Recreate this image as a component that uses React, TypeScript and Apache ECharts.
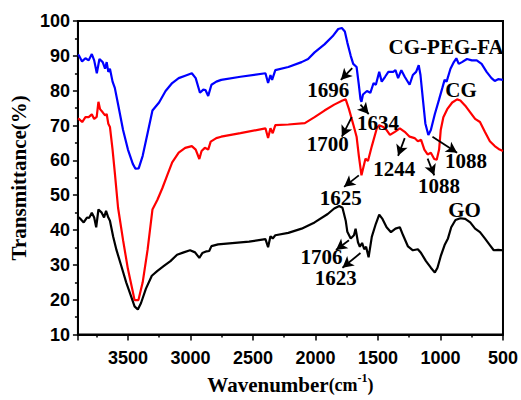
import React, { useEffect, useRef } from 'react';
import * as echarts from 'echarts';

// FTIR spectra: [wavenumber (cm-1), transmittance (%)]
const cgPegFa: [number, number][] = [
  [3900, 90.3], [3893, 90.2], [3867, 88.4], [3840, 89.3], [3814, 88.7], [3789, 90.5], [3770, 88.7],
  [3749, 85], [3728, 89.1], [3702, 88.2], [3683, 86.3], [3670, 88.2], [3657, 85.4], [3644, 86.3],
  [3623, 82.6], [3605, 80.8], [3579, 76.1], [3539, 68.7], [3500, 63.1], [3461, 59], [3440, 57.6],
  [3414, 57.7], [3382, 61.3], [3343, 67.8], [3304, 74.3], [3251, 76.6], [3199, 79.9], [3146, 82.2],
  [3094, 83.6], [3042, 84.3], [2989, 85], [2958, 83.6], [2924, 79.4], [2897, 80.3], [2880, 80.2],
  [2858, 78.5], [2832, 81.7], [2793, 82.6], [2754, 83.1], [2600, 84], [2400, 85], [2379, 82.2],
  [2360, 84.5], [2347, 83.1], [2321, 85.9], [2217, 86.8], [2111, 88.2], [2059, 89.1], [2007, 91],
  [1928, 93.3], [1863, 95.6], [1818, 97.7], [1789, 98], [1765, 97], [1745, 93.8], [1718, 90],
  [1698, 87.7], [1671, 86.8], [1653, 81.7], [1640, 77.6], [1632, 76.8], [1620, 78.9], [1588, 79.9],
  [1561, 79.4], [1535, 82.2], [1517, 81.7], [1490, 85.4], [1470, 82.6], [1443, 84], [1417, 85.4],
  [1378, 85.4], [1360, 85.9], [1339, 83.6], [1313, 85.9], [1286, 84], [1247, 81.7], [1221, 84.5],
  [1195, 85.4], [1174, 87.3], [1160, 84.5], [1142, 78], [1121, 70.6], [1097, 67.3], [1077, 68.7],
  [1045, 73.3], [1011, 77.5], [985, 80.8], [967, 83.1], [951, 82.6], [920, 86.3], [893, 88.2],
  [873, 89.3], [854, 87.7], [828, 88.2], [788, 89.1], [749, 88.7], [710, 88.7], [671, 87.7],
  [631, 85.4], [592, 83.6], [566, 82.8], [539, 83.3], [500, 83.1],
];

const cg: [number, number][] = [
  [3900, 72], [3893, 71.9], [3866, 71], [3840, 72.4], [3814, 72.4], [3789, 73.2], [3770, 71.9],
  [3750, 72.5], [3736, 76.8], [3723, 74.7], [3702, 73.8], [3683, 72.9], [3670, 73.3], [3657, 70.5],
  [3644, 69.6], [3623, 63.1], [3605, 56.5], [3579, 46.4], [3539, 37.1], [3500, 28.8], [3461, 22.3],
  [3447, 19.9], [3416, 19.9], [3382, 25], [3343, 34.3], [3304, 45.9], [3264, 48.7], [3225, 52],
  [3186, 55.7], [3146, 59.4], [3094, 62.2], [3042, 63.6], [2989, 64.1], [2958, 63.1], [2929, 60.4],
  [2911, 62.7], [2885, 63.6], [2858, 63.1], [2838, 65.4], [2793, 66.4], [2754, 66.8], [2600, 67.8],
  [2400, 69.2], [2379, 66.4], [2360, 69.2], [2342, 67.8], [2321, 70.1], [2217, 70.3], [2085, 70.7],
  [2007, 72.4], [1928, 74.3], [1850, 76], [1784, 77.2], [1758, 77.5], [1732, 74.7], [1714, 72.4],
  [1692, 69.6], [1671, 66.8], [1653, 61.3], [1632, 55.7], [1600, 60.5], [1580, 59.8], [1549, 64.1],
  [1509, 69.2], [1490, 70.1], [1457, 69.6], [1431, 68.7], [1404, 67.3], [1365, 68.2], [1325, 69.2],
  [1286, 68.2], [1247, 66.8], [1207, 66.4], [1181, 65.5], [1155, 65.9], [1129, 63.1], [1103, 61.7],
  [1077, 62.2], [1050, 60.4], [1030, 60.2], [1011, 63.1], [998, 68.7], [977, 72.4], [946, 74.7],
  [906, 76.6], [867, 77.5], [841, 77.2], [802, 75.7], [762, 73.8], [723, 71.9], [684, 71],
  [645, 68.2], [605, 65.5], [566, 64.1], [527, 63.1], [500, 62.7],
];

const go: [number, number][] = [
  [3900, 43.8], [3879, 43.2], [3854, 42.2], [3828, 43.6], [3810, 43.5], [3789, 45], [3770, 43.6],
  [3754, 40.8], [3736, 45.9], [3710, 45], [3691, 43.6], [3675, 45.5], [3657, 43.6], [3644, 42.7],
  [3618, 38.1], [3592, 34.3], [3553, 29.7], [3514, 25], [3474, 20.9], [3447, 18.1], [3421, 17.2],
  [3396, 19], [3356, 23.2], [3309, 26.9], [3264, 28.3], [3212, 29.7], [3160, 31.1], [3107, 32.9],
  [3054, 33.6], [3003, 34.2], [2963, 33.6], [2929, 32], [2905, 33.4], [2871, 33.9], [2850, 34],
  [2832, 35.4], [2779, 35.9], [2531, 36.7], [2400, 37.4], [2379, 35.1], [2360, 38.2], [2342, 37.6],
  [2321, 38.5], [2217, 39.2], [2111, 40.4], [2007, 42.2], [1902, 44.6], [1850, 46.2], [1810, 46.9],
  [1784, 46.4], [1758, 42.7], [1745, 39.5], [1718, 37.6], [1692, 38.5], [1679, 40.4], [1660, 36.5],
  [1645, 35.2], [1627, 36.3], [1610, 34.5], [1595, 35.2], [1575, 32.2], [1549, 38.1], [1517, 41.8],
  [1490, 44.4], [1464, 43.2], [1431, 40.8], [1396, 39.4], [1360, 40.4], [1325, 40.8], [1299, 38.5],
  [1260, 35.3], [1221, 34.2], [1181, 34.5], [1155, 33.4], [1116, 31.1], [1077, 29.2], [1045, 27.8],
  [1024, 29.2], [998, 32.5], [967, 35.7], [940, 37.6], [914, 40.8], [880, 42.9], [841, 43.4],
  [802, 43.2], [762, 42.2], [723, 40.4], [684, 39.4], [645, 37.6], [605, 35.7], [574, 34.2],
  [539, 34.3], [500, 34.2],
];

// annotation labels, anchored in data coordinates [wavenumber, transmittance]
const labelTexts = ['CG-PEG-FA', '1696', '1634', 'CG', '1700', '1244', '1088', '1088', '1625', 'GO', '1706', '1623'];
const labelAt: [number, number][] = [
  [955, 92.5], [1897, 80.1], [1500, 70.7], [836, 80.1], [1901, 64.6], [1370, 57.6],
  [1012, 52.6], [796, 59.9], [1798, 49.3], [808, 45.9], [1952, 32.4], [1838, 26.2],
];
// arrows: [from, to] in data coordinates
const arrows: [[number, number], [number, number]][] = [
  [[1706, 86.5], [1797, 83.1]],
  [[1640, 76.0], [1574, 73.3]],
  [[1710, 72.4], [1789, 66.8]],
  [[1286, 66.4], [1339, 61.3]],
  [[1103, 60.5], [1050, 55.7]],
  [[1064, 66.8], [867, 62.2]],
  [[1653, 55.7], [1771, 52.4]],
  [[1732, 37.1], [1836, 34.3]],
  [[1640, 33.4], [1784, 29.2]],
];

const SANS = '"Liberation Sans", Arial, sans-serif';
const SERIF = '"Liberation Serif", "Times New Roman", serif';

export default function App() {
  const ref = useRef<HTMLDivElement>(null);
  useEffect(() => {
    document.body.style.margin = '0';
    const chart = echarts.init(ref.current!, null, { renderer: 'svg' });
    const lineSeries = (name: string, data: [number, number][], color: string) => ({
      type: 'line',
      name,
      data,
      showSymbol: false,
      symbol: 'none',
      lineStyle: { color, width: 2.2 },
      itemStyle: { color },
      z: 3,
    });
    const axisLabelStyle = { color: '#000', fontFamily: SANS, fontWeight: 'bold', fontSize: 18 };
    chart.setOption({
      animation: false,
      grid: { left: 73, right: 14, top: 21, bottom: 56, show: true, borderColor: '#000', borderWidth: 2 },
      xAxis: {
        type: 'value',
        inverse: true,
        min: 500,
        max: 3900,
        interval: 500,
        name: '{t|Wavenumber}{p|(cm}{s|-1}{p|)}',
        nameLocation: 'middle',
        nameGap: 33,
        nameTextStyle: {
          rich: {
            t: { fontFamily: SERIF, fontWeight: 'bold', fontSize: 21, color: '#000' },
            p: { fontFamily: SERIF, fontWeight: 'bold', fontSize: 18, color: '#000' },
            s: { fontFamily: SERIF, fontWeight: 'bold', fontSize: 12, color: '#000', padding: [0, 0, 14, 0] },
          },
        },
        axisLine: { show: true, lineStyle: { color: '#000', width: 2 } },
        axisTick: { show: true, length: 6, lineStyle: { color: '#000', width: 1.5 } },
        minorTick: { show: true, splitNumber: 2, length: 3, lineStyle: { color: '#000', width: 1.5 } },
        splitLine: { show: false },
        axisLabel: {
          ...axisLabelStyle,
          margin: 14,
          formatter: (v: number) => (v % 500 === 0 ? String(v) : ''),
        },
      },
      yAxis: {
        type: 'value',
        min: 10,
        max: 100,
        interval: 10,
        name: 'Transmittance(%)',
        nameLocation: 'middle',
        nameGap: 41,
        nameTextStyle: { fontFamily: SERIF, fontWeight: 'bold', fontSize: 21, color: '#000' },
        axisLine: { show: true, lineStyle: { color: '#000', width: 2 } },
        axisTick: { show: true, length: 5, lineStyle: { color: '#000', width: 1.5 } },
        minorTick: { show: true, splitNumber: 2, length: 3, lineStyle: { color: '#000', width: 1.5 } },
        splitLine: { show: false },
        axisLabel: { ...axisLabelStyle, margin: 8 },
      },
      series: [
        lineSeries('CG-PEG-FA', cgPegFa, '#0000ff'),
        lineSeries('CG', cg, '#ff0000'),
        {
          ...lineSeries('GO', go, '#000000'),
          markLine: {
            silent: true,
            symbol: ['none', 'arrow'],
            symbolSize: [9, 11],
            label: { show: false },
            lineStyle: { color: '#000', width: 1.8, type: 'solid' },
            data: arrows.map(([a, b]) => [{ coord: a }, { coord: b }]),
          },
        },
      ],
    });
    const graphic = labelTexts.map((t, i) => {
      const p = chart.convertToPixel({ xAxisIndex: 0, yAxisIndex: 0 }, labelAt[i]) as number[];
      return {
        type: 'text',
        x: p[0],
        y: p[1],
        z: 10,
        style: {
          text: t,
          fill: '#000',
          font: `bold 21px ${SERIF}`,
          fontFamily: SERIF,
          fontWeight: 'bold',
          fontSize: 21,
          align: 'center',
          verticalAlign: 'middle',
          textAlign: 'center',
          textVerticalAlign: 'middle',
        },
      };
    });
    chart.setOption({ graphic });
    return () => chart.dispose();
  }, []);
  return <div ref={ref} style={{ width: 521, height: 400 }} />;
}
